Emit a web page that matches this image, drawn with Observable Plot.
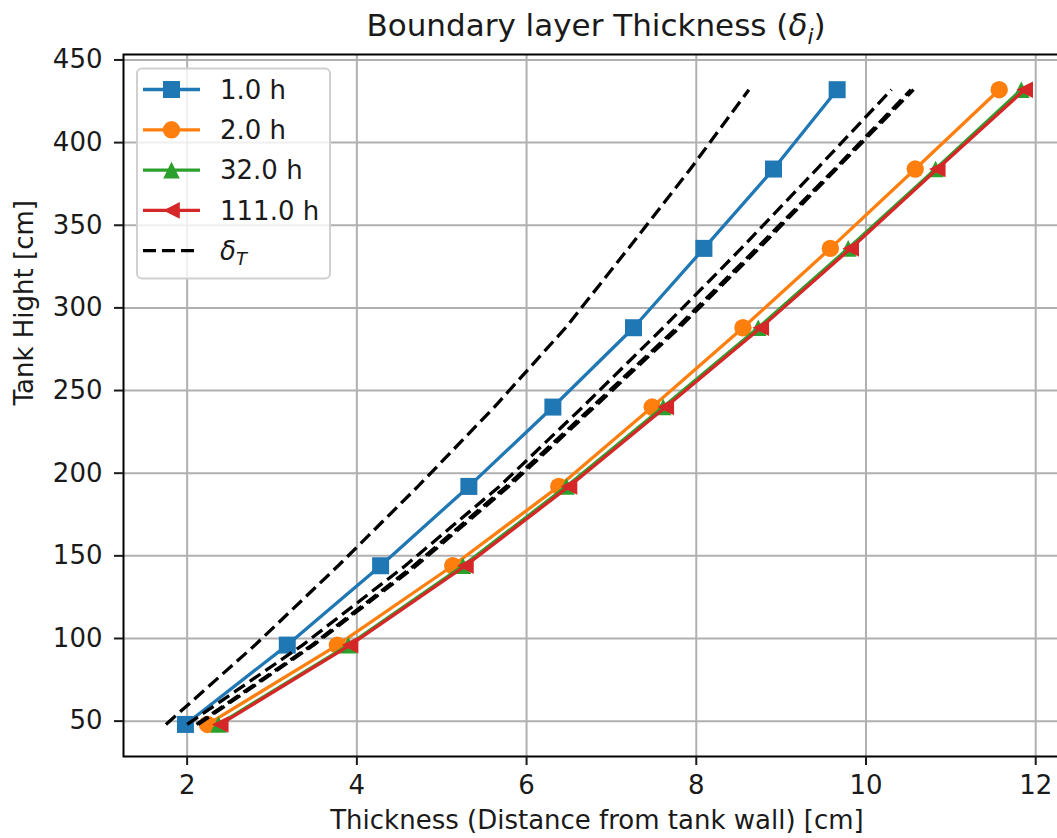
<!DOCTYPE html>
<html>
<head>
<meta charset="utf-8">
<script src="https://cdn.jsdelivr.net/npm/d3@7"></script>
<script src="https://cdn.jsdelivr.net/npm/@observablehq/plot@0.6"></script>
<style>
  html, body { margin: 0; padding: 0; background: #fff; overflow: hidden; }
  #chart { position: relative; width: 1057px; height: 838px; overflow: hidden; font-family: "DejaVu Sans", sans-serif; color: #000; }
  #chart svg.plot { position: absolute; left: 0; top: 0; max-width: none !important; width: 1075px !important; height: 838px !important; }
  #title { position: absolute; left: 596px; top: 28px; transform: translate(-50%, -50%); font-size: 31px; white-space: nowrap; color: #1a1a1a; }
  #legend { position: absolute; left: 0; top: 0; }
</style>
</head>
<body>
<div id="chart">
  <div id="title">Boundary layer Thickness (<i>δ<sub style="font-size:0.7em">i</sub></i>)</div>
</div>
<script>
// Heights along the tank wall [cm]
const heights = [48, 96, 144, 192, 240, 288, 336, 384, 432];

// Series names (elapsed time)
const seriesLabels = ["1.0 h", "2.0 h", "32.0 h", "111.0 h"];
const seriesColors = ["#1f77b4", "#ff7f0e", "#2ca02c", "#d62728"];

// Boundary layer thickness δi [cm] per series
const delta1h   = [1.98, 3.18, 4.28, 5.32, 6.31, 7.26, 8.09, 8.91, 9.66];
const delta2h   = [2.24, 3.77, 5.13, 6.38, 7.48, 8.55, 9.58, 10.58, 11.57];
const delta32h  = [2.37, 3.90, 5.25, 6.47, 7.61, 8.73, 9.79, 10.82, 11.83];
const delta111h = [2.39, 3.92, 5.28, 6.50, 7.64, 8.76, 9.82, 10.84, 11.87];

// Thermal boundary layer thickness δT [cm] per series
const deltaT1h   = [1.75, 2.80, 3.78, 4.72, 5.62, 6.46, 7.20, 7.93, 8.62];
const deltaT2h   = [2.00, 3.36, 4.57, 5.68, 6.66, 7.61, 8.53, 9.42, 10.30];
const deltaT32h  = [2.11, 3.47, 4.67, 5.76, 6.77, 7.77, 8.71, 9.63, 10.53];
const deltaT111h = [2.13, 3.49, 4.70, 5.79, 6.80, 7.80, 8.74, 9.65, 10.56];

// Axis ticks
const xTicks = [2, 4, 6, 8, 10, 12];
const yTicks = [50, 100, 150, 200, 250, 300, 350, 400, 450];

const xLabel = "Thickness (Distance from tank wall) [cm]";
const yLabel = "Tank Hight [cm]";

// Marker shapes (half-size = r)
const sq = {draw(ctx, size) { const s = Math.sqrt(size / Math.PI); ctx.rect(-s, -s, 2 * s, 2 * s); }};
const circ = {draw(ctx, size) { const s = Math.sqrt(size / Math.PI); ctx.moveTo(s, 0); ctx.arc(0, 0, s, 0, 2 * Math.PI); }};
const triUp = {draw(ctx, size) { const s = Math.sqrt(size / Math.PI); ctx.moveTo(0, -s); ctx.lineTo(-s, s); ctx.lineTo(s, s); ctx.closePath(); }};
const triLeft = {draw(ctx, size) { const s = Math.sqrt(size / Math.PI); ctx.moveTo(-s, 0); ctx.lineTo(s, -s); ctx.lineTo(s, s); ctx.closePath(); }};
const symbols = [sq, circ, triUp, triLeft];
const symbolR = [8.5, 8.7, 8.3, 8.3];

const deltaSeries = [delta1h, delta2h, delta32h, delta111h];
const deltaTSeries = [deltaT1h, deltaT2h, deltaT32h, deltaT111h];

const toRows = (vals) => heights.map((h, j) => ({x: vals[j], y: h}));

const lineW = 3.3;
const dash = "13,6";

const marks = [
  Plot.gridX(xTicks, {stroke: "#b0b0b0", strokeOpacity: 1, strokeWidth: 2}),
  Plot.gridY(yTicks, {stroke: "#b0b0b0", strokeOpacity: 1, strokeWidth: 2})
];

seriesLabels.forEach((name, i) => {
  const rows = toRows(deltaSeries[i]);
  marks.push(Plot.line(rows, {x: "x", y: "y", stroke: seriesColors[i], strokeWidth: lineW, strokeLinejoin: "round"}));
  marks.push(Plot.dot(rows, {x: "x", y: "y", symbol: symbols[i], r: symbolR[i], fill: seriesColors[i], stroke: "none"}));
  marks.push(Plot.line(toRows(deltaTSeries[i]), {x: "x", y: "y", stroke: "#000", strokeWidth: lineW, strokeDasharray: dash, strokeLinecap: "butt"}));
});

marks.push(
  Plot.frame({stroke: "#000", strokeWidth: 2}),
  Plot.axisX(xTicks, {tickSize: 9, tickPadding: 10, fontSize: 26, strokeWidth: 2, label: null, tickFormat: (d) => String(d)}),
  Plot.axisY(yTicks, {tickSize: 9, tickPadding: 12, fontSize: 26, strokeWidth: 2, label: null, tickFormat: (d) => String(d)}),
  Plot.text([xLabel], {frameAnchor: "bottom", dy: 64, fontSize: 26, fill: "#1a1a1a", text: (d) => d, lineAnchor: "middle"}),
  Plot.text([yLabel], {frameAnchor: "left", dx: -99, rotate: -90, fontSize: 26, fill: "#1a1a1a", text: (d) => d, lineAnchor: "middle"})
);

const chart = Plot.plot({
  width: 1075,
  height: 838,
  marginTop: 54,
  marginBottom: 82,
  marginLeft: 123,
  marginRight: 5,
  style: {fontFamily: "DejaVu Sans", color: "#1a1a1a", background: "transparent", overflow: "visible", maxWidth: "none"},
  x: {domain: [1.25, 12.41]},
  y: {domain: [28.6, 453.3]},
  marks
});
chart.classList.add("plot");
document.getElementById("chart").appendChild(chart);

// Legend box in the upper-left of the axes
const legendEntries = seriesLabels.map((name, i) => ({name, color: seriesColors[i], symbol: symbols[i], r: symbolR[i]}));
legendEntries.push({name: null, color: "#000", dashed: true});

const lg = d3.select("#chart").append("svg").attr("id", "legend")
  .attr("width", 1057).attr("height", 838);
lg.append("rect")
  .attr("x", 137).attr("y", 68.5).attr("width", 193).attr("height", 210)
  .attr("rx", 5).attr("fill", "#fff").attr("fill-opacity", 0.8)
  .attr("stroke", "#d0d0d0").attr("stroke-width", 2);

const rowY = (k) => 89.5 + k * 40.3;
legendEntries.forEach((e, k) => {
  const g = lg.append("g").attr("transform", `translate(0,${rowY(k)})`);
  g.append("line").attr("x1", 143).attr("x2", 200).attr("y1", 0).attr("y2", 0)
    .attr("stroke", e.color).attr("stroke-width", lineW)
    .attr("stroke-dasharray", e.dashed ? "13,6" : null);
  if (!e.dashed) {
    const p = d3.path();
    e.symbol.draw(p, e.r * e.r * Math.PI);
    g.append("path").attr("d", p.toString()).attr("transform", "translate(171.5,0)").attr("fill", e.color);
    g.append("text").attr("x", 220).attr("y", 0).attr("dy", "0.36em")
      .attr("font-size", 26).attr("fill", "#1a1a1a").attr("font-family", "DejaVu Sans").text(e.name);
  } else {
    const t = g.append("text").attr("x", 220).attr("y", 0).attr("dy", "0.36em")
      .attr("font-size", 26).attr("fill", "#1a1a1a").attr("font-family", "DejaVu Sans").attr("font-style", "italic");
    t.append("tspan").text("δ");
    t.append("tspan").attr("font-size", 18).attr("dy", "0.3em").text("T");
  }
});
</script>
</body>
</html>
